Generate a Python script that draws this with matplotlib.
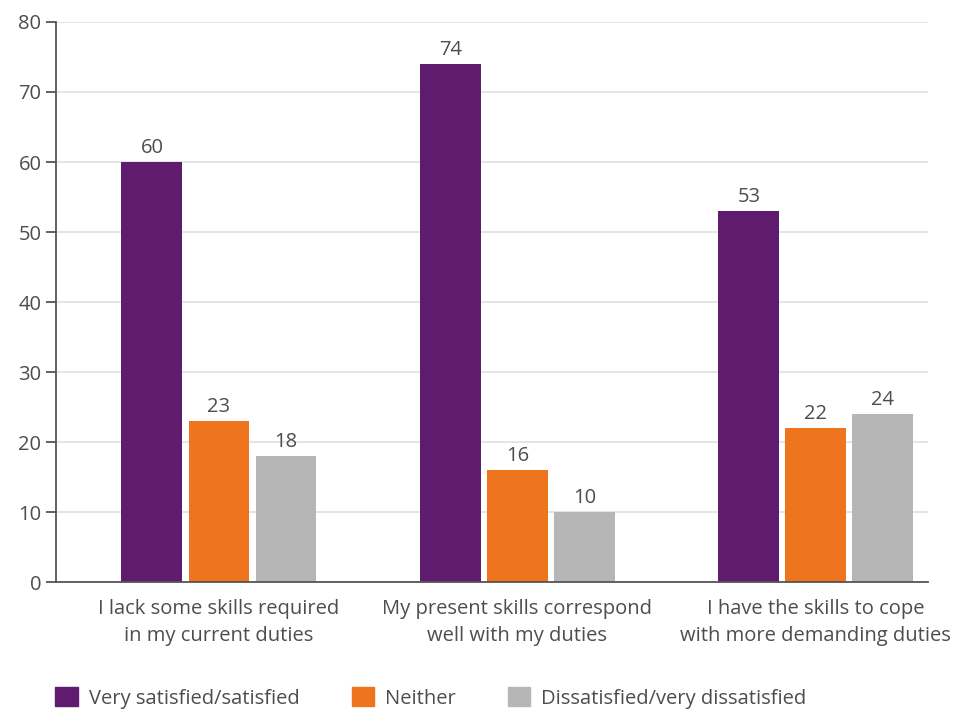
import numpy as np
import matplotlib
matplotlib.use("Agg")
import matplotlib.pyplot as plt
from matplotlib.patches import Patch

plt.rcParams['font.family'] = ['Open Sans', 'DejaVu Sans']

categories = ["I lack some skills required\nin my current duties",
              "My present skills correspond\nwell with my duties",
              "I have the skills to cope\nwith more demanding duties"]
series_names = ["Very satisfied/satisfied", "Neither", "Dissatisfied/very dissatisfied"]
satisfied = [60, 74, 53]
neither = [23, 16, 22]
dissatisfied = [18, 10, 24]
yticks = [0, 10, 20, 30, 40, 50, 60, 70, 80]

colors = ["#5f1b6e", "#ee741d", "#b6b6b6"]
text_col = "#4d4d4d"
axis_col = "#555555"
fs = 14.5

fig = plt.figure(figsize=(9.57, 7.09), dpi=100)
ax = fig.add_axes([0.0585, 0.179, 0.911, 0.79])

x = np.arange(len(categories))
width = 0.204
step = 0.2245
for i, (vals, col) in enumerate(zip([satisfied, neither, dissatisfied], colors)):
    bars = ax.bar(x + (i - 1) * step, vals, width, color=col, zorder=3)
    for b, v in zip(bars, vals):
        ax.annotate(str(v), (b.get_x() + b.get_width() / 2, v),
                    xytext=(0, 3), textcoords="offset points",
                    ha="center", va="bottom", fontsize=fs, color=text_col)

ax.set_xlim(-0.546, 2.375)
ax.set_ylim(0, 80)
ax.set_yticks(yticks)
ax.set_xticks(x)
ax.set_xticklabels(categories, fontsize=fs, color=text_col, linespacing=1.5)
ax.tick_params(axis="x", length=0, pad=12)
ax.tick_params(axis="y", length=7.5, width=1.3, color=axis_col, labelsize=fs,
               labelcolor=text_col, pad=3)
ax.grid(axis="y", color="#e3e3e3", linewidth=1.3, zorder=0)
for s in ["top", "right"]:
    ax.spines[s].set_visible(False)
for s in ["left", "bottom"]:
    ax.spines[s].set_color(axis_col)
    ax.spines[s].set_linewidth(1.3)
ax.spines["bottom"].set_zorder(4)

handles = [Patch(color=c, label=n) for c, n in zip(colors, series_names)]
fig.legend(handles=handles, loc="lower left", bbox_to_anchor=(0.039, -0.025),
           ncol=3, frameon=False, fontsize=fs, handlelength=1.1, handleheight=1.1,
           handletextpad=0.55, columnspacing=2.6, labelcolor=text_col)

fig.savefig("out.png", dpi=100)
